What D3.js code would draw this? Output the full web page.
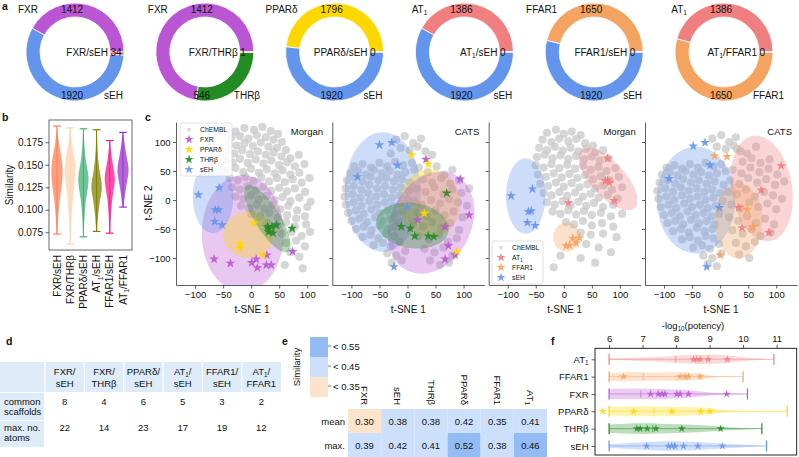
<!DOCTYPE html>
<html><head><meta charset="utf-8">
<script src="https://cdn.jsdelivr.net/npm/d3@7"></script>
<style>
body{margin:0;background:#fff}
svg{display:block}
text{font-family:"Liberation Sans",Arial,Helvetica,sans-serif;fill:#111}
</style></head>
<body><svg id="c" width="799" height="457"></svg>
<script>
// ---------------- DATA ----------------
// panel a
const donutNames = [["FXR","sEH"],["FXR","THRβ"],["PPARδ","sEH"],["AT_{1}","sEH"],["FFAR1","sEH"],["AT_{1}","FFAR1"]];
const donutOnlyA = [1412,1412,1796,1386,1650,1386];
const donutOnlyB = [1920,546,1920,1920,1920,1650];
const donutShared = [34,1,0,0,0,0];
// panel b
const violinLabels = ["FXR/sEH","FXR/THRβ","PPARδ/sEH","AT_{1}/sEH","FFAR1/sEH","AT_{1}/FFAR1"];
const violinColors = ["#ff7f50","#ffd3b0","#3cb371","#808000","#ff1493","#9932cc"];
const violinMin = [0.073,0.062,0.070,0.076,0.074,0.103];
const violinMax = [0.193,0.191,0.190,0.189,0.177,0.186];
const violinProfiles = [
 [[0.073,0.08],[0.085,0.15],[0.1,0.3],[0.115,0.55],[0.125,0.8],[0.135,0.95],[0.145,1],[0.155,0.85],[0.165,0.55],[0.175,0.3],[0.185,0.12],[0.193,0.05]],
 [[0.062,0.05],[0.08,0.12],[0.1,0.3],[0.12,0.6],[0.135,0.85],[0.145,1],[0.155,0.85],[0.165,0.55],[0.175,0.3],[0.185,0.12],[0.191,0.05]],
 [[0.07,0.05],[0.09,0.15],[0.11,0.4],[0.125,0.8],[0.135,0.95],[0.145,0.7],[0.155,0.4],[0.17,0.18],[0.18,0.1],[0.19,0.05]],
 [[0.076,0.08],[0.09,0.2],[0.105,0.45],[0.118,0.8],[0.125,0.95],[0.133,0.8],[0.145,0.45],[0.16,0.2],[0.175,0.1],[0.189,0.05]],
 [[0.074,0.08],[0.09,0.15],[0.11,0.35],[0.125,0.75],[0.135,0.95],[0.145,0.7],[0.155,0.4],[0.165,0.2],[0.177,0.05]],
 [[0.103,0.1],[0.115,0.3],[0.128,0.6],[0.138,0.9],[0.145,1],[0.152,0.85],[0.162,0.55],[0.172,0.3],[0.18,0.15],[0.186,0.05]]
];
const violinTicks = [0.075,0.100,0.125,0.150,0.175];
// panel c : t-SNE
const tsneTicks = [-100,-50,0,50,100];
const cloudMorgan1 = [[-28,118],[-12,124],[5,121],[20,126],[35,119],[48,114],
[-35,108],[-20,110],[-5,106],[10,112],[26,108],[40,104],[55,100],
[-40,96],[-26,94],[-12,98],[3,93],[17,99],[31,92],[46,90],[62,86],
[-44,84],[-30,80],[-16,86],[-2,79],[12,84],[26,78],[40,82],[54,75],[70,72],[85,78],
[-46,68],[-33,65],[-20,71],[-6,64],[8,70],[22,63],[36,68],[50,60],[64,65],[78,58],[95,62],
[-42,52],[-28,55],[-14,48],[0,54],[14,47],[28,53],[42,46],[56,51],[70,44],[86,47],
[-38,38],[-24,34],[-10,40],[4,33],[18,39],[32,32],[46,38],[60,31],[74,36],[90,30],[104,38],
[-34,22],[-20,18],[-6,24],[8,17],[22,23],[36,16],[50,21],[64,15],[78,20],[96,14],
[-28,6],[-14,2],[0,8],[14,1],[28,7],[42,0],[56,5],[70,-2],[86,4],[106,-3],
[-18,-10],[-4,-14],[10,-8],[24,-15],[38,-9],[52,-16],[66,-10],[82,-18],[100,-12],
[0,-24],[16,-28],[32,-22],[48,-30],[64,-26],[80,-32],[96,-28],
[28,-40],[46,-44],[62,-38],[78,-46],[98,-42],
[55,-58],[72,-55],[90,-62],[105,-55],[62,-74],[80,-70],[96,-80],[70,-90],[86,-98],[60,-112],[92,-118]];
const cloudCats1 = [[-20,104],[-5,110],[10,98],[24,106],[-12,90],[4,86],[18,92],[32,84],[-30,80],[44,78],
[-95,58],[-80,62],[-65,56],[-50,64],[-36,58],[-22,66],[-8,60],[8,64],
[-102,46],[-88,50],[-74,44],[-60,52],[-46,46],[-32,50],[-18,44],[-4,48],[12,52],
[-108,34],[-94,38],[-80,32],[-66,40],[-52,34],[-38,38],[-24,32],[-10,36],[4,30],
[-110,20],[-96,24],[-82,18],[-68,26],[-54,20],[-40,24],[-26,18],[-12,22],[2,16],
[-112,6],[-98,10],[-84,4],[-70,12],[-56,6],[-42,10],[-28,4],[-14,8],[0,2],
[-110,-8],[-96,-4],[-82,-10],[-68,-2],[-54,-8],[-40,-4],[-26,-10],[-12,-6],
[-106,-22],[-92,-18],[-78,-24],[-64,-16],[-50,-22],[-36,-18],[-22,-24],[-8,-20],
[-100,-36],[-86,-32],[-72,-38],[-58,-30],[-44,-36],[-30,-32],[-16,-38],
[-92,-50],[-78,-46],[-64,-52],[-50,-44],[-36,-50],[-22,-46],
[-80,-64],[-66,-60],[-52,-66],[-38,-58],[-24,-62],
[-60,-78],[-44,-74],[-30,-80],[-14,-72],
[-36,-92],[-20,-96],[-4,-88],[-28,-108],[-10,-104],
[20,56],[36,48],[52,58],[66,44],[80,52],[28,36],[44,30],[60,38],[76,28],[92,34],
[16,20],[32,14],[48,22],[64,10],[80,18],[96,12],[110,20],
[12,-2],[26,-8],[42,0],[58,-6],[74,2],[90,-4],[106,-10],
[18,-22],[34,-28],[50,-18],[66,-26],[82,-20],[98,-30],
[10,-40],[28,-46],[44,-38],[60,-48],[76,-40],[92,-52],
[20,-62],[38,-68],[56,-60],[72,-72],[88,-66],
[30,-84],[48,-90],[64,-82],[80,-96],[40,-104],[58,-112],[74,-108]];
const cloudMorgan2 = [[-30,116],[-14,121],[0,114],[14,118],[30,112],
[-38,104],[-22,100],[-8,106],[8,101],[22,105],[38,98],[52,94],
[-44,90],[-30,86],[-16,92],[-2,85],[12,90],[26,84],[40,88],[56,82],[70,86],
[-48,74],[-34,78],[-20,72],[-6,77],[8,71],[22,76],[36,70],[50,75],[64,68],[80,72],
[-50,60],[-36,56],[-22,62],[-8,55],[6,61],[20,54],[34,59],[48,52],[62,57],[76,50],[92,55],
[-46,44],[-32,40],[-18,46],[-4,39],[10,45],[24,38],[38,43],[52,36],[66,41],[82,34],[98,40],
[-42,28],[-28,24],[-14,30],[0,23],[14,29],[28,22],[42,27],[56,20],[70,25],[86,18],[104,22],
[-36,12],[-22,8],[-8,14],[6,7],[20,13],[34,6],[48,11],[62,4],[78,9],[96,2],
[-30,-4],[-16,-8],[-2,-2],[12,-9],[26,-3],[40,-10],[54,-5],[70,-12],[88,-8],
[-20,-20],[-6,-24],[8,-18],[22,-25],[36,-19],[50,-26],[66,-22],[84,-28],[104,-24],
[4,-38],[18,-42],[34,-36],[50,-44],[68,-40],[88,-46],
[30,-56],[48,-60],[70,-58],[94,-64],[40,-76],[62,-82],[84,-90],
[-6,-96],[30,-100],[-18,-116],[56,-108]];
const cloudCats2 = [[-14,106],[2,112],[16,100],[28,108],[-6,92],[10,88],[24,94],[36,84],
[-96,56],[-82,60],[-68,54],[-54,62],[-40,56],[-26,64],[-12,58],[2,62],
[-104,44],[-90,48],[-76,42],[-62,50],[-48,44],[-34,48],[-20,42],[-6,46],[10,50],
[-108,30],[-94,34],[-80,28],[-66,36],[-52,30],[-38,34],[-24,28],[-10,32],[6,26],
[-112,16],[-98,20],[-84,14],[-70,22],[-56,16],[-42,20],[-28,14],[-14,18],[0,12],
[-110,2],[-96,6],[-82,0],[-68,8],[-54,2],[-40,6],[-26,0],[-12,4],[4,-2],
[-106,-12],[-92,-8],[-78,-14],[-64,-6],[-50,-12],[-36,-8],[-22,-14],[-8,-10],
[-100,-26],[-86,-22],[-72,-28],[-58,-20],[-44,-26],[-30,-22],[-16,-28],[-2,-24],
[-94,-40],[-80,-36],[-66,-42],[-52,-34],[-38,-40],[-24,-36],[-10,-42],
[-84,-54],[-70,-50],[-56,-56],[-42,-48],[-28,-54],[-14,-50],
[-68,-68],[-54,-64],[-40,-70],[-26,-62],[-12,-66],
[-48,-82],[-32,-78],[-18,-84],[-2,-76],
[-30,-96],[-14,-100],[2,-92],[-22,-110],[-6,-114],
[30,88],[48,80],[64,92],[40,66],[56,72],[72,64],[88,70],
[22,52],[38,46],[54,56],[70,48],[86,54],[102,44],
[18,34],[34,28],[50,38],[66,30],[82,36],[98,26],[114,32],
[14,14],[30,10],[46,18],[62,6],[78,14],[94,8],[110,2],
[20,-8],[36,-14],[52,-4],[68,-12],[84,-6],[100,-16],
[16,-30],[32,-36],[48,-28],[64,-40],[80,-32],[96,-42],
[22,-52],[40,-58],[56,-50],[72,-62],[90,-56],
[28,-74],[46,-80],[62,-72],[34,-94],[52,-100]];
// ellipses: [target, cx, cy, semi-axis a, semi-axis b, angle deg]
const ellMorgan1 = [["FXR",-15,-58,73,101,0],["PPARδ",-5,-60,45,40,0],["THRβ",29,-32,68,22,-57],["sEH",-68,6,36,63,0]];
const ellCats1 = [["sEH",-44,14,68,103,0],["PPARδ",40,-6,54,59,0],["FXR",42,-39,93,71,60],["THRβ",9,-44,65,39,-8]];
const ellMorgan2 = [["AT_{1}",79,36,69,30,-46],["FFAR1",5,-64,24,25,0],["sEH",-68,7,35,65,0]];
const ellCats2 = [["sEH",-43,0,70,92,0],["AT_{1}",74,20,92,54,100],["FFAR1",33,-36,42,65,0]];
// stars (reference compounds)
const m1FXR = [[-66,-102],[-37,-109],[1,-108],[9,-102],[11,-117],[28,-95],[27,-112],[36,-112],[74,-89]];
const m1PPAR = [[5,-40],[-20,-75],[-20,-82],[21,-95]];
const m1THR = [[31,-49],[37,-46],[31,-55],[39,-57],[45,-43],[29,-46],[73,-49]];
const m1sEH = [[-94,9],[-57,21],[-64,-17],[-58,-17],[-65,-37],[-52,-43]];
const c1FXR = [[33,70],[94,36],[110,-26],[18,-34],[67,-46],[73,-79],[85,-95],[67,-102]];
const c1PPAR = [[7,78],[37,62],[30,-23],[88,-89]];
const c1THR = [[70,12],[-11,-46],[5,-49],[13,-62],[37,-62],[47,-63]];
const c1sEH = [[-50,95],[-28,99],[-18,60],[-89,40],[-1,-12],[-24,-115]];
const m2AT1 = [[78,72],[74,33],[81,30],[78,34],[90,-1],[8,-5]];
const m2FFAR1 = [[16,-66],[28,-65],[22,-74],[10,-78],[4,-79]];
const m2sEH = [[-94,7],[-56,19],[-63,-20],[-58,-19],[-65,-39],[-51,-44]];
const c2AT1 = [[109,59],[73,17],[33,-13],[39,-48],[87,-56]];
const c2FFAR1 = [[-10,76],[12,75],[48,-16],[58,-46],[0,-95]];
const c2sEH = [[-48,93],[-27,99],[-18,60],[-91,37],[-1,-13],[-24,-115]];
// panel d
const tableHeads = [["FXR/","sEH"],["FXR/","THRβ"],["PPARδ/","sEH"],["AT_{1}/","sEH"],["FFAR1/","sEH"],["AT_{1}/","FFAR1"]];
const tableRowLabels = [["common","scaffolds"],["max. no.","atoms"]];
const commonScaffolds = [8,4,6,5,3,2];
const maxAtoms = [22,14,23,17,19,12];
// panel e
const heatCols = ["FXR","sEH","THRβ","PPARδ","FFAR1","AT_{1}"];
const heatRows = ["mean","max."];
const heatMean = [0.30,0.38,0.38,0.42,0.35,0.41];
const heatMax = [0.39,0.42,0.41,0.52,0.38,0.46];
const simLegend = ["< 0.55","< 0.45","< 0.35"];
// panel f
const potTargets = ["AT_{1}","FFAR1","FXR","PPARδ","THRβ","sEH"];
const potMin = [6,6,6,6,6,6];
const potMax = [10.92,10.0,10.13,11.32,10.56,10.7];
const potMedian = [7.99,7.02,6.95,7.34,7.3,7.95];
const potStars = [
 [8.52,8.62,8.72,8.96,9.53],
 [6.43,8.12,8.27,8.37,8.72],
 [7.24,7.47,7.58,7.67,8.02,8.12,8.37,9.51],
 [5.81,6.73,7.87,8.74,9.01],
 [6.83,6.93,7.14,7.4,8.17,9.33],
 [7.12,7.77,7.87,7.97,8.22,8.65,9.38]
];
const potProfiles = [
 [[6,0.15],[7,0.3],[7.8,0.55],[8.5,0.85],[9,0.9],[9.5,0.7],[10,0.35],[10.5,0.12],[10.92,0.04]],
 [[6,0.7],[6.5,0.85],[7,0.8],[7.5,0.75],[8,0.8],[8.5,0.75],[8.8,0.5],[9.0,0.15],[9.5,0.05],[10,0.03]],
 [[6,0.9],[6.5,1],[7,0.95],[7.5,0.9],[8,0.85],[8.5,0.6],[9,0.25],[9.5,0.15],[10.13,0.04]],
 [[6,0.8],[6.5,0.9],[7,0.9],[7.5,0.9],[8,0.85],[8.5,0.8],[9,0.6],[9.3,0.3],[9.8,0.08],[11.32,0.02]],
 [[6,0.75],[6.5,0.9],[7,1.0],[7.5,0.9],[8,0.8],[8.5,0.7],[9,0.55],[9.5,0.3],[10,0.12],[10.56,0.04]],
 [[6,0.35],[6.5,0.5],[7,0.7],[7.5,0.85],[8,0.9],[8.5,0.8],[9,0.6],[9.5,0.4],[10,0.2],[10.7,0.04]]
];
const potTicks = [6,7,8,9,10,11];

// ---------------- STYLE ----------------
const colorOf = {"FXR":"#ba55d3","sEH":"#6495ed","THRβ":"#228b22","PPARδ":"#ffd700","AT_{1}":"#f08080","FFAR1":"#f4a460"};
const svg = d3.select('#c');

function rich(t, str, fs){
  t.text(null);
  const parts = str.split(/(_\{[^}]*\})/).filter(p=>p.length);
  let shifted=false;
  parts.forEach(p=>{
    const m = p.match(/^_\{(.*)\}$/);
    if(m){ t.append('tspan').attr('dy',fs*0.25).attr('font-size',fs*0.66).text(m[1]); shifted=true; }
    else { const ts=t.append('tspan').text(p); if(shifted){ ts.attr('dy',-fs*0.25); shifted=false; } }
  });
  return t;
}
function txt(x,y,str,fs,anchor,extra){
  const t = svg.append('text').attr('x',x).attr('y',y).attr('font-size',fs).attr('text-anchor',anchor||'start');
  if(extra) extra(t);
  return rich(t,str,fs);
}
function panelLabel(x,y,s){ svg.append('text').attr('x',x).attr('y',y).attr('font-size',10.5).attr('font-weight','bold').text(s); }
function styleAxis(g){ g.selectAll('path,line').attr('stroke','#333').attr('stroke-width',0.8); g.selectAll('text').attr('fill','#111'); }

// ---------------- PANEL a ----------------
panelLabel(2,10,'a');
const dX = d3.scalePoint().domain(d3.range(6)).range([75,724]);
const arcGen = d3.arc().innerRadius(35).outerRadius(49);
const pieGen = d3.pie().sort(null).value(d=>d.v).startAngle(Math.PI/2).endAngle(Math.PI/2-2*Math.PI);
donutNames.forEach((nm,i)=>{
  const cx=dX(i), cy=52;
  const g = svg.append('g').attr('transform',`translate(${cx},${cy})`);
  const items=[{v:donutOnlyA[i],c:colorOf[nm[0]]},{v:donutOnlyB[i],c:colorOf[nm[1]]},{v:donutShared[i],c:'#f5654f'}];
  g.selectAll('path').data(pieGen(items)).join('path').attr('d',arcGen)
    .attr('fill',d=>d.data.c).attr('stroke','#fff').attr('stroke-width',0.8);
  txt(cx-37,cy-39.5,nm[0],10,'end');
  txt(cx-3,cy-39.5,String(donutOnlyA[i]),10,'middle');
  txt(cx+33,cy+3.5,nm[0]+'/'+nm[1],10,'end');
  txt(cx+35.5,cy+3.5,String(donutShared[i]),10,'start');
  txt(cx-3,cy+46.5,String(donutOnlyB[i]),10,'middle');
  txt(cx+29,cy+46.5,nm[1],10,'start');
});

// ---------------- PANEL b ----------------
panelLabel(2,121,'b');
const bY = d3.scaleLinear().domain([0.0553,0.1998]).range([250,120]);
const bX = d3.scalePoint().domain(violinLabels).range([57,123]);
svg.append('rect').attr('x',49).attr('y',120).attr('width',83).attr('height',130).attr('fill','none').attr('stroke','#444').attr('stroke-width',0.8);
const bAx = svg.append('g').attr('transform','translate(49,0)').call(d3.axisLeft(bY).tickValues(violinTicks).tickFormat(d3.format('.3f')).tickSize(3.5).tickPadding(2.5));
bAx.select('.domain').remove(); bAx.attr('font-size',10).attr('font-family',null); styleAxis(bAx);
violinLabels.forEach((lab,i)=>{
  const x=bX(lab), col=violinColors[i];
  const area=d3.area().curve(d3.curveBasis).y(d=>bY(d[0])).x0(d=>x-d[1]*5.8).x1(d=>x+d[1]*5.8);
  svg.append('path').attr('d',area(violinProfiles[i])).attr('fill',col).attr('fill-opacity',0.75);
  svg.append('line').attr('x1',x).attr('x2',x).attr('y1',bY(violinMin[i])).attr('y2',bY(violinMax[i])).attr('stroke',col).attr('stroke-width',1);
  [violinMin[i],violinMax[i]].forEach(v=>svg.append('line').attr('x1',x-3.8).attr('x2',x+3.8).attr('y1',bY(v)).attr('y2',bY(v)).attr('stroke',col).attr('stroke-width',1.2));
  const t=svg.append('text').attr('font-size',10).attr('text-anchor','end').attr('transform',`translate(${x+3.5},255) rotate(-90)`);
  rich(t,lab,10);
});
svg.append('text').attr('font-size',10).attr('text-anchor','middle').attr('transform','translate(13,185) rotate(-90)').text('Similarity');

// ---------------- PANEL c ----------------
panelLabel(145,121,'c');
const cLeft = d3.scalePoint().domain([0,1,2,3]).range([176,645]);
const tX = d3.scaleLinear().domain([-134,137]).range([0,152]);
const tY = d3.scaleLinear().domain([-146.5,134.5]).range([285,122]);
const star = d3.symbol(d3.symbolStar,30);
const subplots = [
 {cloud:cloudMorgan1, ell:ellMorgan1, stars:[["FXR",m1FXR],["PPARδ",m1PPAR],["THRβ",m1THR],["sEH",m1sEH]], title:'Morgan'},
 {cloud:cloudCats1, ell:ellCats1, stars:[["sEH",c1sEH],["FXR",c1FXR],["PPARδ",c1PPAR],["THRβ",c1THR]], title:'CATS'},
 {cloud:cloudMorgan2, ell:ellMorgan2, stars:[["AT_{1}",m2AT1],["FFAR1",m2FFAR1],["sEH",m2sEH]], title:'Morgan'},
 {cloud:cloudCats2, ell:ellCats2, stars:[["AT_{1}",c2AT1],["FFAR1",c2FFAR1],["sEH",c2sEH]], title:'CATS'}
];
subplots.forEach((sp,i)=>{
  const L=cLeft(i);
  const g=svg.append('g').attr('transform',`translate(${L},0)`);
  const cid='clip'+i;
  g.append('clipPath').attr('id',cid).append('rect').attr('x',0).attr('y',122).attr('width',152).attr('height',163);
  const inner=g.append('g').attr('clip-path',`url(#${cid})`);
  inner.selectAll('circle').data(sp.cloud).join('circle').attr('cx',d=>tX(d[0])).attr('cy',d=>tY(d[1])).attr('r',4.1)
    .attr('fill','#c6c6c6').attr('fill-opacity',0.72);
  const line=d3.line().x(d=>tX(d[0])).y(d=>tY(d[1]));
  sp.ell.forEach(e=>{
    const [t,cx,cy,a,b,ang]=e, th=ang*Math.PI/180;
    const pts=d3.range(0,73).map(k=>{const u=k/72*2*Math.PI;return [cx+a*Math.cos(th)*Math.cos(u)-b*Math.sin(th)*Math.sin(u), cy+a*Math.sin(th)*Math.cos(u)+b*Math.cos(th)*Math.sin(u)];});
    inner.append('path').attr('d',line(pts)+'Z').attr('fill',colorOf[t]).attr('fill-opacity',0.33);
  });
  sp.stars.forEach(([t,arr])=>{
    inner.selectAll(null).data(arr).join('path').attr('d',star).attr('transform',d=>`translate(${tX(d[0])},${tY(d[1])})`)
      .attr('fill',colorOf[t]).attr('fill-opacity',0.9);
  });
  const ax=g.append('g').attr('transform','translate(0,285)').call(d3.axisBottom(tX).tickValues(tsneTicks).tickSize(3.5).tickPadding(2.5).tickSizeOuter(0));
  ax.attr('font-size',9.5).attr('font-family',null); styleAxis(ax);
  const ay=g.append('g').call(d3.axisLeft(tY).tickValues(tsneTicks).tickSize(3).tickPadding(2.5).tickSizeOuter(0).tickFormat(i===0?d3.format('d'):()=>''));
  ay.attr('font-size',9.5).attr('font-family',null); styleAxis(ay);
  g.append('text').attr('x',76).attr('y',313).attr('font-size',10).attr('text-anchor','middle').text('t-SNE 1');
  g.append('text').attr('x',147).attr('y',135).attr('font-size',9.5).attr('text-anchor','end').text(sp.title);
});
svg.append('text').attr('font-size',10).attr('text-anchor','middle').attr('transform','translate(152,203) rotate(-90)').text('t-SNE 2');
function tsneLegend(x0,y0,w,entries){
  const h=entries.length*10+3;
  svg.append('rect').attr('x',x0).attr('y',y0).attr('width',w).attr('height',h).attr('rx',2).attr('fill','#fff').attr('fill-opacity',0.85).attr('stroke','#cfcfcf').attr('stroke-width',0.6);
  entries.forEach((e,k)=>{
    const yy=y0+6.5+k*10;
    if(e==='ChEMBL') svg.append('circle').attr('cx',x0+9).attr('cy',yy).attr('r',1.8).attr('fill','#d6d6d6');
    else svg.append('path').attr('d',d3.symbol(d3.symbolStar,26)()).attr('transform',`translate(${x0+9},${yy})`).attr('fill',colorOf[e]).attr('fill-opacity',0.9);
    const t=svg.append('text').attr('x',x0+20).attr('y',yy+2.4).attr('font-size',6.8);
    rich(t,e,6.8);
  });
}
tsneLegend(180,123,52,["ChEMBL","FXR","PPARδ","THRβ","sEH"]);
tsneLegend(492,241,51,["ChEMBL","AT_{1}","FFAR1","sEH"]);

// ---------------- PANEL d ----------------
panelLabel(6,345,'d');
const tCol = d3.scaleBand().domain(d3.range(6)).range([45,281]);
const tblBlue='#deebf8';
svg.append('rect').attr('x',0).attr('y',362).attr('width',281).attr('height',30).attr('fill',tblBlue);
svg.append('rect').attr('x',0).attr('y',393).attr('width',44).attr('height',27).attr('fill',tblBlue);
svg.append('rect').attr('x',0).attr('y',421).attr('width',44).attr('height',26).attr('fill',tblBlue);
tCol.domain().forEach(i=>svg.append('line').attr('x1',tCol(i)).attr('x2',tCol(i)).attr('y1',362).attr('y2',392).attr('stroke','#fff').attr('stroke-width',1.2));
tableHeads.forEach((h,i)=>{
  const x=tCol(i)+tCol.bandwidth()/2;
  txt(x,375,h[0],9.5,'middle'); txt(x,387,h[1],9.5,'middle');
  txt(x,405,String(commonScaffolds[i]),9.5,'middle');
  txt(x,431,String(maxAtoms[i]),9.5,'middle');
});
tableRowLabels.forEach((r,k)=>{
  const y0=[405,431][k];
  txt(4,y0,r[0],9.5,'start'); txt(4,y0+9.5,r[1],9.5,'start');
});

// ---------------- PANEL e ----------------
panelLabel(282,345,'e');
const heatColor = d3.scaleThreshold().domain([0.35,0.45]).range(['#fde2cc','#cde0fb','#94bcf4']);
const legColors = ['#94bcf4','#cde0fb','#fde2cc'];
const legY = d3.scaleBand().domain(simLegend).range([337,397]);
simLegend.forEach((s,k)=>{
  svg.append('rect').attr('x',310).attr('y',legY(s)).attr('width',18).attr('height',legY.bandwidth()).attr('fill',legColors[k]);
  svg.append('line').attr('x1',328).attr('x2',331).attr('y1',legY(s)+9).attr('y2',legY(s)+9).attr('stroke','#444').attr('stroke-width',0.7);
  txt(333,legY(s)+12.5,s,9.5,'start');
});
svg.append('text').attr('font-size',9.5).attr('text-anchor','middle').attr('transform','translate(300,367) rotate(-90)').text('Similarity');
const hX = d3.scaleBand().domain(heatCols).range([348,547]);
const hY = d3.scaleBand().domain(heatRows).range([409,457]);
[heatMean,heatMax].forEach((arr,r)=>{
  heatCols.forEach((c,i)=>{
    svg.append('rect').attr('x',hX(c)).attr('y',hY(heatRows[r])).attr('width',hX.bandwidth()).attr('height',hY.bandwidth()).attr('fill',heatColor(arr[i]));
    txt(hX(c)+hX.bandwidth()/2,hY(heatRows[r])+hY.bandwidth()/2+3.5,arr[i].toFixed(2),9.5,'middle');
  });
  txt(345,hY(heatRows[r])+hY.bandwidth()/2+3.5,heatRows[r],9.5,'end');
});
heatCols.forEach(c=>{
  const t=svg.append('text').attr('font-size',9.5).attr('text-anchor','end').attr('transform',`translate(${hX(c)+hX.bandwidth()/2},405) rotate(90)`).attr('dy','0.35em');
  rich(t,c,9.5);
});

// ---------------- PANEL f ----------------
panelLabel(551,345,'f');
const fX = d3.scaleLinear().domain([5.58,11.6]).range([595,796.7]);
const fY = d3.scalePoint().domain(potTargets).range([359.3,446]);
const fStar = d3.symbol(d3.symbolStar,20);
potTargets.forEach((t,i)=>{
  const y=fY(t), col=colorOf[t];
  const area=d3.area().curve(d3.curveBasis).x(d=>fX(d[0])).y0(d=>y-d[1]*5.5).y1(d=>y+d[1]*5.5);
  svg.append('path').attr('d',area(potProfiles[i])).attr('fill',col).attr('fill-opacity',0.3);
  svg.append('line').attr('x1',fX(potMin[i])).attr('x2',fX(potMax[i])).attr('y1',y).attr('y2',y).attr('stroke',col).attr('stroke-opacity',0.55).attr('stroke-width',0.9);
  [potMin[i],potMax[i]].forEach(v=>svg.append('line').attr('x1',fX(v)).attr('x2',fX(v)).attr('y1',y-5.5).attr('y2',y+5.5).attr('stroke',col).attr('stroke-width',1.2));
  svg.append('line').attr('x1',fX(potMedian[i])).attr('x2',fX(potMedian[i])).attr('y1',y-3.5).attr('y2',y+3.5).attr('stroke',col).attr('stroke-width',0.9).attr('stroke-opacity',0.7);
  svg.selectAll(null).data(potStars[i]).join('path').attr('d',fStar).attr('transform',d=>`translate(${fX(d)},${y})`).attr('fill',col).attr('fill-opacity',0.85);
});
svg.append('rect').attr('x',595).attr('y',348.3).attr('width',201.7).attr('height',106.7).attr('fill','none').attr('stroke','#111').attr('stroke-width',0.9);
const fAxT = svg.append('g').attr('transform','translate(0,348.3)').call(d3.axisTop(fX).tickValues(potTicks).tickFormat(d3.format('d')).tickSize(3.5).tickPadding(2.5));
fAxT.select('.domain').remove(); fAxT.attr('font-size',9.5).attr('font-family',null); styleAxis(fAxT);
const fAxL = svg.append('g').attr('transform','translate(595,0)').call(d3.axisLeft(fY).tickSize(3.5).tickPadding(3));
fAxL.select('.domain').remove(); fAxL.attr('font-size',9.5).attr('font-family',null); styleAxis(fAxL);
fAxL.selectAll('.tick text').each(function(d){ rich(d3.select(this),d,9.5); });
txt(693,328.5,'-log_{10}(potency)',9.5,'middle');
</script></body></html>
